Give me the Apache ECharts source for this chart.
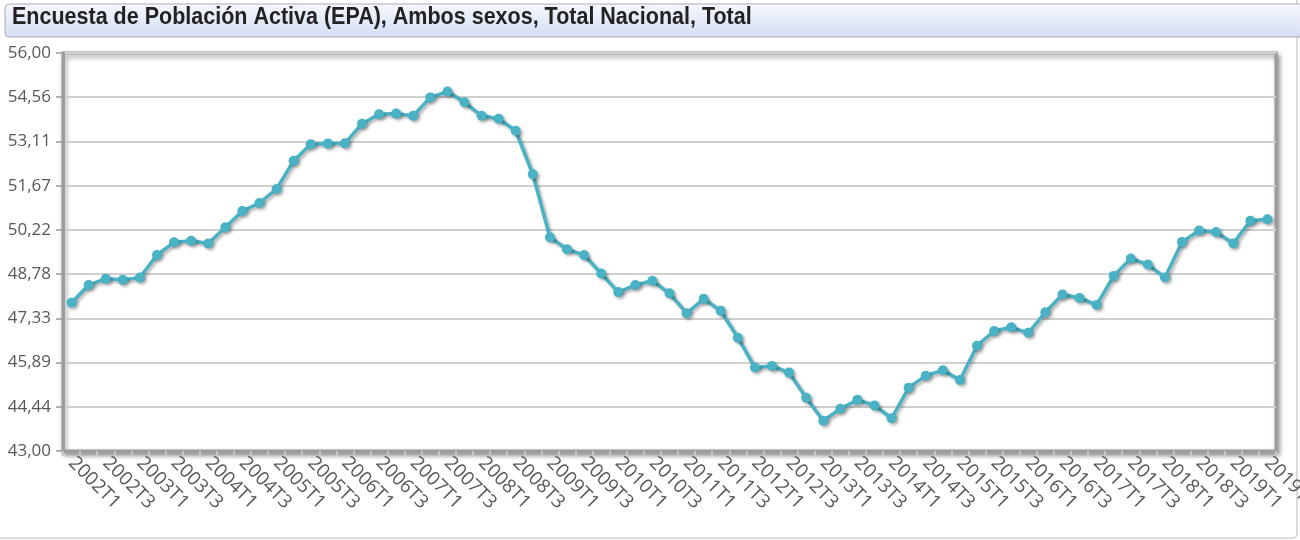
<!DOCTYPE html>
<html>
<head>
<meta charset="utf-8">
<title>EPA</title>
<script src="https://cdn.jsdelivr.net/npm/echarts@6/dist/echarts.min.js"></script>
<style>
  html, body { margin: 0; padding: 0; background: #fff; }
  #chart { width: 1300px; height: 540px; }
</style>
</head>
<body>
<div id="chart"></div>
<script>
// Tasa de actividad, trimestral 2002T1 - 2019T3
const years = [2002, 2003, 2004, 2005, 2006, 2007, 2008, 2009, 2010, 2011, 2012, 2013, 2014, 2015, 2016, 2017, 2018, 2019];
const quarters = ['T1', 'T2', 'T3', 'T4'];

let categories = [];
years.forEach(y => quarters.forEach(q => categories.push(y + q)));
categories = categories.slice(0, 71); // hasta 2019T3

const values = [
  47.84, 48.42, 48.63, 48.59, 48.67, 49.40, 49.82, 49.87, 49.78, 50.31,
  50.84, 51.10, 51.56, 52.48, 53.02, 53.04, 53.05, 53.69, 54.00, 54.02,
  53.95, 54.55, 54.74, 54.39, 53.95, 53.85, 53.46, 52.04, 49.98, 49.59,
  49.40, 48.80, 48.19, 48.42, 48.56, 48.15, 47.50, 47.97, 47.58, 46.70,
  45.73, 45.78, 45.56, 44.74, 43.99, 44.38, 44.67, 44.49, 44.07, 45.07,
  45.46, 45.64, 45.32, 46.44, 46.92, 47.04, 46.86, 47.53, 48.11, 48.00,
  47.77, 48.72, 49.29, 49.09, 48.67, 49.83, 50.20, 50.15, 49.78, 50.52,
  50.57
];

const yMin = 43;
const yMax = 56;
const yTickLabels = ['43,00', '44,44', '45,89', '47,33', '48,78', '50,22', '51,67', '53,11', '54,56', '56,00'];

const titleText = 'Encuesta de Población Activa (EPA), Ambos sexos, Total Nacional, Total';

const chart = echarts.init(document.getElementById('chart'));

const option = {
  animation: false,
  backgroundColor: '#fff',
  graphic: [
    {
      type: 'rect',
      shape: { x: -10, y: -10, width: 1307, height: 548, r: 4 },
      style: { fill: 'none', stroke: '#cfcfcf', lineWidth: 1.5 },
      silent: true,
      z: -1
    },
    {
      type: 'rect',
      shape: { x: 5, y: 4, width: 1310, height: 33, r: 4 },
      style: {
        fill: new echarts.graphic.LinearGradient(0, 0, 0, 1, [
          { offset: 0, color: '#f6f8fd' },
          { offset: 1, color: '#d3ddf3' }
        ]),
        stroke: '#a9adb8',
        lineWidth: 1
      },
      silent: true
    },
    {
      type: 'text',
      x: 12,
      y: 6,
      scaleX: 0.935,
      style: {
        text: titleText,
        fontFamily: '"Liberation Sans Narrow", "Liberation Sans", Arial',
        fontWeight: 'bold',
        fontSize: 23,
        fill: '#222'
      },
      silent: true
    }
  ],
  grid: {
    left: 63,
    right: 24,
    top: 53,
    bottom: 89,
    outerBoundsMode: 'none',
    containLabel: false,
    show: true,
    backgroundColor: '#fff',
    borderColor: '#9c9c9c',
    borderWidth: 3,
    shadowColor: 'rgba(0,0,0,0.4)',
    shadowBlur: 5,
    shadowOffsetX: 2,
    shadowOffsetY: 3
  },
  xAxis: {
    type: 'category',
    data: categories,
    boundaryGap: true,
    axisLine: { show: true, lineStyle: { color: '#9c9c9c', width: 3 } },
    axisTick: { show: true, interval: 0, length: 5, lineStyle: { color: '#c8c8c8', width: 2 } },
    axisLabel: {
      interval: 1,
      rotate: -45,
      margin: 9,
      color: '#585858',
      fontFamily: '"Open Sans", sans-serif',
      fontSize: 19
    },
    splitLine: { show: false }
  },
  yAxis: [
    {
      // eje de datos (oculto)
      type: 'value',
      min: yMin,
      max: yMax,
      show: false,
      splitLine: { show: false }
    },
    {
      // eje visible, con 9 divisiones iguales
      type: 'value',
      position: 'left',
      min: 0,
      max: yTickLabels.length - 1,
      interval: 1,
      axisLine: { show: true, lineStyle: { color: '#9c9c9c', width: 3 } },
      axisTick: { show: true, length: 7, lineStyle: { color: '#9c9c9c', width: 1.5 } },
      axisLabel: {
        margin: 12,
        color: '#585858',
        fontFamily: '"Open Sans", sans-serif',
        fontSize: 17,
        formatter: v => yTickLabels[Math.round(v)]
      },
      splitLine: { show: true, lineStyle: { color: '#cfcfcf', width: 2 } }
    }
  ],
  series: [
    {
      name: 'EPA',
      type: 'line',
      yAxisIndex: 0,
      data: values,
      symbol: 'circle',
      symbolSize: 10,
      lineStyle: {
        color: '#4ab2c5',
        width: 3.5,
        shadowColor: 'rgba(0,0,0,0.3)',
        shadowBlur: 3,
        shadowOffsetX: 2,
        shadowOffsetY: 2
      },
      itemStyle: {
        color: '#4ab2c5',
        shadowColor: 'rgba(0,0,0,0.3)',
        shadowBlur: 3,
        shadowOffsetX: 2,
        shadowOffsetY: 2
      }
    }
  ]
};

chart.setOption(option);
window.addEventListener('resize', () => chart.resize());
</script>
</body>
</html>
